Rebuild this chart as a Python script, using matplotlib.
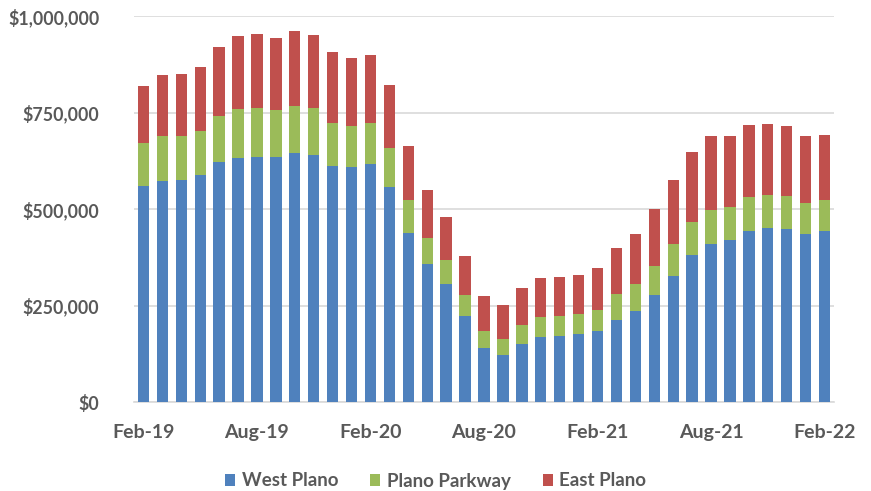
import matplotlib
matplotlib.use("Agg")
import numpy as np
from matplotlib import pyplot as plt
from matplotlib.ticker import FuncFormatter

# monthly totals by area, Feb-19 .. Feb-22
months = ["Feb-19", "Mar-19", "Apr-19", "May-19", "Jun-19", "Jul-19", "Aug-19",
          "Sep-19", "Oct-19", "Nov-19", "Dec-19", "Jan-20", "Feb-20", "Mar-20",
          "Apr-20", "May-20", "Jun-20", "Jul-20", "Aug-20", "Sep-20", "Oct-20",
          "Nov-20", "Dec-20", "Jan-21", "Feb-21", "Mar-21", "Apr-21", "May-21",
          "Jun-21", "Jul-21", "Aug-21", "Sep-21", "Oct-21", "Nov-21", "Dec-21",
          "Jan-22", "Feb-22"]

west_plano = [559, 572, 574, 589, 621, 632, 635, 634, 646, 639, 611, 609, 616, 557,
              439, 357, 305, 222, 140, 122, 150, 169, 171, 175, 183, 213, 237, 277,
              327, 380, 409, 419, 443, 452, 449, 434, 442]
plano_parkway = [112, 117, 114, 114, 121, 126, 127, 122, 122, 122, 111, 107, 107, 101,
                 84, 69, 64, 54, 45, 42, 50, 51, 51, 52, 56, 66, 69, 76,
                 82, 87, 89, 85, 87, 83, 84, 81, 81]
east_plano = [147, 158, 162, 165, 178, 189, 192, 188, 192, 191, 184, 175, 176, 164,
              139, 122, 111, 101, 90, 87, 96, 102, 102, 101, 107, 120, 129, 146,
              165, 181, 190, 186, 187, 186, 181, 173, 170]

tick_labels = ["Feb-19", "Aug-19", "Feb-20", "Aug-20", "Feb-21", "Aug-21", "Feb-22"]

plt.rcParams['font.family'] = ['Lato', 'DejaVu Sans']
plt.rcParams['font.weight'] = 'bold'
text_color = '#595959'

west = np.array(west_plano) * 1000
parkway = np.array(plano_parkway) * 1000
east = np.array(east_plano) * 1000
x = np.arange(len(months))

fig = plt.figure(figsize=(8.71, 4.91), dpi=100)
ax = fig.add_axes([134 / 871, 1 - 402 / 491, 700 / 871, 386 / 491])

w = 0.6
ax.bar(x, west, w, color='#4F81BD', label='West Plano', zorder=3)
ax.bar(x, parkway, w, bottom=west, color='#9BBB59', label='Plano Parkway', zorder=3)
ax.bar(x, east, w, bottom=west + parkway, color='#C0504D', label='East Plano', zorder=3)

ax.set_xlim(-0.5, len(months) - 0.5)
ax.set_ylim(0, 1000000)
ax.set_yticks(np.arange(0, 1000001, 250000))
ax.yaxis.set_major_formatter(FuncFormatter(lambda v, p: "${:,.0f}".format(v)))
ax.set_xticks([months.index(m) for m in tick_labels])
ax.set_xticklabels(tick_labels)

ax.grid(axis='y', color='#D9D9D9', linewidth=1.2, zorder=0)
for s in ['top', 'right', 'left']:
    ax.spines[s].set_visible(False)
ax.spines['bottom'].set_color('#D9D9D9')
ax.spines['bottom'].set_linewidth(1.2)
ax.tick_params(axis='both', length=0, labelcolor=text_color)
ax.tick_params(axis='y', pad=25, labelsize=12.8)
ax.tick_params(axis='x', pad=16, labelsize=14)

fig.legend(loc='center', bbox_to_anchor=(0.5, 1 - 481 / 491), ncol=3, frameon=False,
           fontsize=13.5, labelcolor=text_color, handlelength=0.55, handleheight=0.55,
           handletextpad=0.35, columnspacing=1.7)

fig.savefig('out.png', dpi=100)
